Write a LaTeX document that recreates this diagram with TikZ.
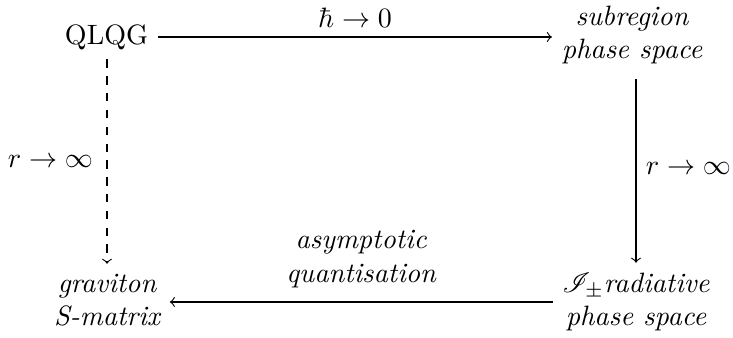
\documentclass[tikz,border=0pt]{standalone}
\usepackage{mathrsfs}
\begin{document}
\begin{tikzpicture}[x=0.357pt,y=-0.357pt,>=to,
  obj/.style={align=center,font=\itshape},
  lbl/.style={font=\normalfont},
  arr/.style={->}]
\useasboundingbox (0,0) rectangle (733,338);
\node[obj] (q) at (106.5,37) {\upshape QLQG};
\node[obj] (s) at (632,35) {subregion\\phase space};
\node[obj] (r) at (636,302) {$\mathscr{I}_{\pm}$radiative\\phase space};
\node[obj] (g) at (107,300) {graviton\\S-matrix};
\draw[arr] (q.east) -- (q.east -| s.west) node[midway,above,lbl] {$\hbar\to0$};
\draw[arr,shorten <=1.8pt] (s.south -| r.north) -- (r.north) node[midway,right,lbl] {$r\to\infty$};
\draw[arr] (r.west) -- (r.west -| g.east) node[midway,above,obj,yshift=1.5pt] {asymptotic\\quantisation};
\draw[arr,dashed] (q.south -| g.north) -- (g.north) node[midway,left,lbl,xshift=-1.5pt] {$r\to\infty$};
\end{tikzpicture}
\end{document}
